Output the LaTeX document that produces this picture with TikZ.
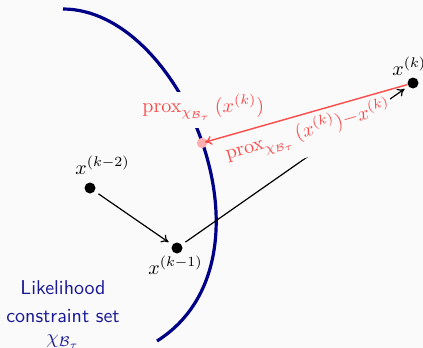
\documentclass[tikz,border=0pt]{standalone}
\usepackage{amsmath}
\usetikzlibrary{arrows.meta}
\definecolor{bgc}{RGB}{250,250,250}
\definecolor{navyc}{RGB}{0,0,135}
\definecolor{navyt}{RGB}{25,25,150}
\definecolor{redc}{RGB}{250,75,75}
\definecolor{pinkc}{RGB}{255,175,175}
\begin{document}
\begin{tikzpicture}[x=0.5pt,y=-0.5pt,
  dot/.style={circle,fill=black,inner sep=0pt,minimum size=5.5pt},
  pdot/.style={circle,fill=pinkc,inner sep=0pt,minimum size=5.2pt},
  xlab/.style={inner sep=0pt,anchor=base west},
  proxlab/.style={text=redc,fill=bgc,inner xsep=1pt,inner ysep=1pt,anchor=base west},
  blk/.style={draw=black,line width=0.6pt,-{To[length=3.5pt,width=4.5pt]},shorten <=2.2pt,shorten >=2.2pt},
  redarr/.style={draw=redc,line width=0.7pt,-{To[length=3.5pt,width=4.5pt]},shorten >=1.5pt},
  setlab/.style={text=navyt,font=\sffamily,inner sep=0pt,anchor=base},
  boundary/.style={draw=navyc,line width=1.6pt}
]
\fill[bgc] (0,0) rectangle (423,348);
\useasboundingbox (0,0) rectangle (423,348);

% constraint set boundary
\draw[boundary] (63,9) .. controls (183,9) and (285,260) .. (157,341);

% points
\node[dot] (a) at (90,188) {};
\node[dot] (b) at (177,248) {};
\node[dot] (c) at (413,83) {};
\node[pdot] (p) at (202,143) {};

% black arrows
\draw[blk] (a) -- (b);
\draw[blk] (b) -- (c);

% labels
\node[xlab] (la) at (75,174) {$x^{(k-2)}$};
\node[xlab] (lb) at (148,274) {$x^{(k-1)}$};
\node[xlab] (lc) at (392,75) {$x^{(k)}$};

\node[proxlab,text depth=7pt] (l1) at (140,112)
  {$\operatorname{prox}_{\chi_{\mathcal{B}_\tau}}\,(x^{(k)})$};
\node[proxlab,text depth=9pt,rotate=15.9] (l2) at (225,160)
  {$\operatorname{prox}_{\chi_{\mathcal{B}_\tau}}\,(x^{(k)}){-}x^{(k)}$};

% red arrow (projection)
\draw[redarr] (c) -- (p.center);

% set label
\node[setlab] (s1) at (63,294) {Likelihood};
\node[setlab] (s2) at (63,322) {constraint set};
\node[setlab] (s3) at (63,343) {$\chi_{\mathcal{B}_\tau}$};
\end{tikzpicture}
\end{document}
